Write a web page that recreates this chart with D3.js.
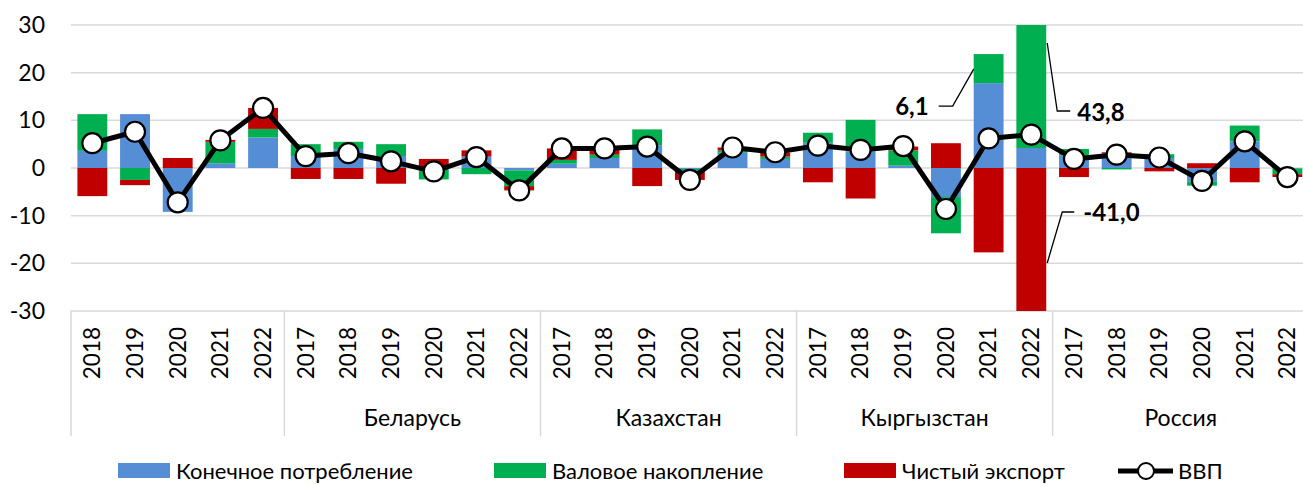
<!DOCTYPE html>
<html>
<head>
<meta charset="utf-8">
<script src="https://cdn.jsdelivr.net/npm/d3@7"></script>
<style>
  body { margin: 0; background: #fff; }
  text { font-family: Lato, "Noto Sans", sans-serif; fill: #000; }
</style>
</head>
<body>
<div id="chart"></div>
<script>
// groups on the category axis (first group has no name in the source)
const groupNames = ["", "Беларусь", "Казахстан", "Кыргызстан", "Россия"];
const groupYears = [
  ["2018", "2019", "2020", "2021", "2022"],
  ["2017", "2018", "2019", "2020", "2021", "2022"],
  ["2017", "2018", "2019", "2020", "2021", "2022"],
  ["2017", "2018", "2019", "2020", "2021", "2022"],
  ["2017", "2018", "2019", "2020", "2021", "2022"]
];

// contributions to GDP growth, p.p.
const consumption  = [3.6, 11.3, -9.2, 1.0, 6.4,   2.5, 4.0, 2.5, 0.0, 2.4, -0.5,   0.9, 2.1, 4.8, -0.2, 3.2, 1.9,   5.3, 3.5, 0.5, -6.1, 17.8, 4.2,   2.6, 3.0, 2.1, -2.8, 5.6, -0.1];
const accumulation = [7.7, -2.5, 0.0, 4.5, 1.8,   2.5, 1.5, 2.5, -2.4, -1.3, -3.3,   0.8, 0.7, 3.3, -0.4, 0.5, 0.5,   2.1, 6.6, 3.2, -7.6, 6.1, 43.8,   1.4, -0.3, 0.8, -0.9, 3.3, -1.2];
const netExport    = [-5.9, -1.1, 2.1, 0.4, 4.4,   -2.3, -2.3, -3.3, 1.9, 1.3, -0.9,   2.4, 1.3, -3.8, -1.9, 0.6, 0.8,   -3.0, -6.4, 0.8, 5.2, -17.7, -41.0,   -1.9, 0.3, -0.7, 1.0, -3.0, -0.6];
const gdp          = [5.2, 7.6, -7.2, 5.8, 12.6,   2.5, 3.1, 1.4, -0.7, 2.3, -4.7,   4.1, 4.1, 4.5, -2.5, 4.3, 3.3,   4.7, 3.8, 4.6, -8.6, 6.2, 7.0,   1.9, 2.8, 2.2, -2.7, 5.6, -1.9];

const seriesNames = ["Конечное потребление", "Валовое накопление", "Чистый экспорт"];
const lineName = "ВВП";
const yTicks = [-30, -20, -10, 0, 10, 20, 30];

// data labels shown in the source: [category index, series key, text]
const callouts = [
  [21, "acc", "6,1"],
  [22, "acc", "43,8"],
  [22, "nx", "-41,0"]
];

const W = 1303, H = 485;
const colors = { cons: "#558ed5", acc: "#00b050", nx: "#c00000" };
const keys = ["cons", "acc", "nx"];

// flatten categories
const cats = [];
groupYears.forEach((ys, g) => ys.forEach(y => cats.push({ group: g, year: y })));
const rows = cats.map((c, i) => ({
  id: i, year: c.year, group: c.group,
  cons: consumption[i], acc: accumulation[i], nx: netExport[i], gdp: gdp[i]
}));

const svg = d3.select("#chart").append("svg")
  .attr("width", W).attr("height", H);

const plotLeft = 71, plotTop = 25, plotBottom = 311;
const step = 42.68;
const x = d3.scaleBand()
  .domain(rows.map(d => d.id))
  .range([plotLeft, plotLeft + step * rows.length])
  .paddingInner(0.3).paddingOuter(0.15);
const y = d3.scaleLinear().domain([-30, 30]).range([plotBottom, plotTop]);

svg.append("clipPath").attr("id", "plotclip")
  .append("rect").attr("x", plotLeft).attr("y", plotTop)
  .attr("width", W - plotLeft).attr("height", plotBottom - plotTop);

// gridlines
svg.append("g").selectAll("line").data(yTicks).join("line")
  .attr("x1", plotLeft).attr("x2", W)
  .attr("y1", d => y(d)).attr("y2", d => y(d))
  .attr("stroke", "#d9d9d9").attr("stroke-width", 1.5);

// y tick labels
svg.append("g").selectAll("text").data(yTicks).join("text")
  .attr("x", 45).attr("y", d => y(d)).attr("dy", "0.35em")
  .attr("text-anchor", "end").style("font-size", "23px")
  .text(d => d);

// stacked bars (positives and negatives stacked separately)
const stack = d3.stack().keys(keys).offset(d3.stackOffsetDiverging);
const layers = stack(rows);
svg.append("g").attr("clip-path", "url(#plotclip)")
  .selectAll("g").data(layers).join("g")
  .attr("fill", d => colors[d.key])
  .selectAll("rect").data(d => d).join("rect")
  .attr("x", d => x(d.data.id))
  .attr("width", x.bandwidth())
  .attr("y", d => y(Math.max(d[0], d[1])))
  .attr("height", d => Math.abs(y(d[0]) - y(d[1])));

// category axis: group separators
const bounds = [0];
groupYears.forEach(ys => bounds.push(bounds[bounds.length - 1] + ys.length));
const axisG = svg.append("g");
axisG.selectAll("line").data(bounds).join("line")
  .attr("x1", d => plotLeft + d * step).attr("x2", d => plotLeft + d * step)
  .attr("y1", plotBottom).attr("y2", 436)
  .attr("stroke", "#d9d9d9").attr("stroke-width", 1.5);

// year labels, rotated
axisG.selectAll("text.year").data(rows).join("text")
  .attr("class", "year")
  .attr("transform", d => `translate(${x(d.id) + x.bandwidth() / 2},${327}) rotate(-90)`)
  .attr("text-anchor", "end").attr("dy", "0.35em")
  .style("font-size", "22.5px")
  .text(d => d.year);

// group names
axisG.selectAll("text.grp").data(groupNames).join("text")
  .attr("class", "grp")
  .attr("x", (d, i) => plotLeft + (bounds[i] + bounds[i + 1]) / 2 * step)
  .attr("y", 418).attr("dy", "0.35em")
  .attr("text-anchor", "middle").style("font-size", "23px")
  .text(d => d);

// GDP line
const line = d3.line().x(d => x(d.id) + x.bandwidth() / 2).y(d => y(d.gdp));
svg.append("path").datum(rows)
  .attr("d", line).attr("fill", "none")
  .attr("stroke", "#000").attr("stroke-width", 5).attr("stroke-linejoin", "round");
svg.append("g").selectAll("circle").data(rows).join("circle")
  .attr("cx", d => x(d.id) + x.bandwidth() / 2).attr("cy", d => y(d.gdp))
  .attr("r", 10).attr("fill", "#fff").attr("stroke", "#000").attr("stroke-width", 2.2);

// callout labels with leader lines
const layerByKey = {};
layers.forEach(l => layerByKey[l.key] = l);
callouts.forEach(([idx, key, txt]) => {
  const seg = layerByKey[key][idx];
  const left = x(idx), right = x(idx) + x.bandwidth();
  const yTop = Math.max(plotTop, Math.min(plotBottom, y(Math.max(seg[0], seg[1]))));
  const yBot = Math.max(plotTop, Math.min(plotBottom, y(Math.min(seg[0], seg[1]))));
  let pts, tx, ty, anchor;
  if (key === "acc" && yTop > plotTop + 5) {
    // label to the left of the bar
    const a = [left, yTop + 15];
    const b = [left - 21, yTop + 52];
    pts = [a, b, [b[0] - 14, b[1]]];
    tx = b[0] - 24; ty = b[1] + 1; anchor = "end";
  } else if (seg[1] > 0) {
    const a = [right + 1, yTop + 18];
    const b = [right + 11, yTop + 86];
    pts = [a, b, [b[0] + 13, b[1]]];
    tx = b[0] + 20; ty = b[1] + 2; anchor = "start";
  } else {
    const a = [right + 1, yBot - 48];
    const b = [right + 16, yBot - 99];
    pts = [a, b, [b[0] + 12, b[1]]];
    tx = b[0] + 21; ty = b[1] + 1; anchor = "start";
  }
  svg.append("path").attr("d", d3.line()(pts))
    .attr("fill", "none").attr("stroke", "#000").attr("stroke-width", 1.3);
  svg.append("text").attr("x", tx).attr("y", ty).attr("dy", "0.35em")
    .attr("text-anchor", anchor).style("font-size", "24px").style("font-weight", "bold")
    .text(txt);
});

// legend
const legY = 471;
const legend = svg.append("g");
const swX = [118, 494, 844];
keys.forEach((k, i) => {
  legend.append("rect").attr("x", swX[i]).attr("y", legY - 8)
    .attr("width", 52).attr("height", 15).attr("fill", colors[k]);
  legend.append("text").attr("x", swX[i] + 58).attr("y", legY).attr("dy", "0.35em")
    .style("font-size", "22px").text(seriesNames[i]);
});
legend.append("line").attr("x1", 1118).attr("x2", 1173)
  .attr("y1", legY).attr("y2", legY).attr("stroke", "#000").attr("stroke-width", 5);
legend.append("circle").attr("cx", 1146).attr("cy", legY).attr("r", 8)
  .attr("fill", "#fff").attr("stroke", "#000").attr("stroke-width", 2);
legend.append("text").attr("x", 1178).attr("y", legY).attr("dy", "0.35em")
  .style("font-size", "22px").text(lineName);
</script>
</body>
</html>
